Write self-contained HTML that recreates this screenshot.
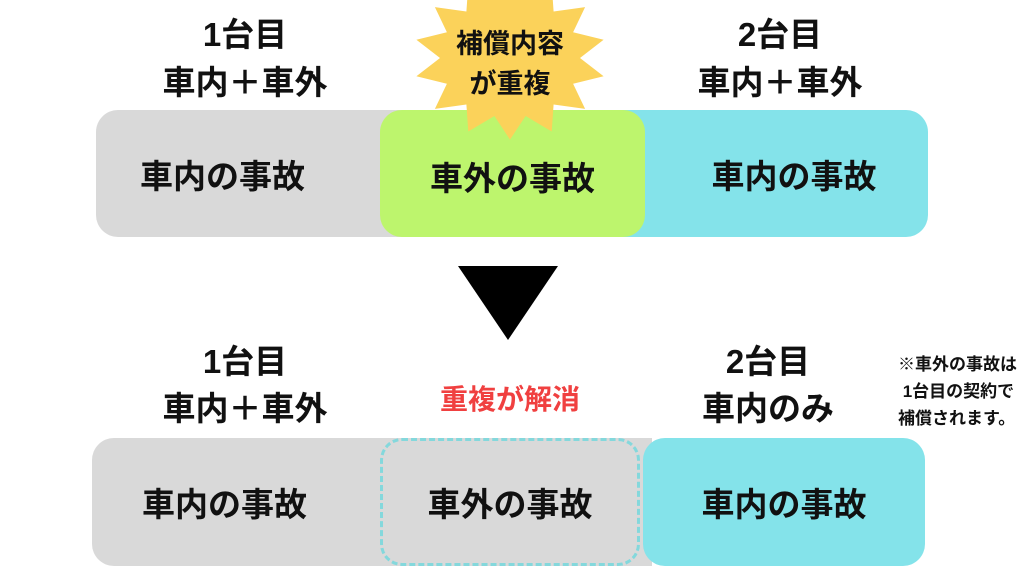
<!DOCTYPE html>
<html><head><meta charset="utf-8"><style>
body{margin:0;width:1024px;height:576px;background:#fff;overflow:hidden;position:relative;font-family:"Liberation Sans","Noto Sans CJK JP",sans-serif;font-weight:bold;color:#111}
.a{position:absolute}
.t{position:absolute;text-align:center;font-size:33px;line-height:36px}
.b{position:absolute;display:flex;align-items:center;justify-content:center;font-size:33px}
</style></head><body>
<div class="b" style="left:96px;top:110px;width:320px;height:127px;background:#d9d9d9;border-radius:22px 0 0 22px;justify-content:flex-start;padding-left:44px;box-sizing:border-box">車内の事故</div>
<div class="b" style="left:620px;top:110px;width:308px;height:127px;background:#84e3ea;border-radius:0 22px 22px 0;padding-left:40px;box-sizing:border-box">車内の事故</div>
<svg class="a" style="left:0;top:0" width="1024" height="576">
<polygon points="458,266 558,266 508,340" fill="#000"/>
</svg>
<div class="b" style="left:380px;top:110px;width:265px;height:127px;background:#bdf56d;border-radius:22px;padding-top:4px;box-sizing:border-box">車外の事故</div>
<svg class="a" style="left:0;top:0" width="1024" height="576"><polygon id="star" fill="#fbd25a"/></svg>
<div class="t" style="left:425px;top:24px;width:170px;font-size:27px;line-height:40px">補償内容<br>が重複</div>
<div class="t" style="left:145px;top:17px;width:200px">1台目</div>
<div class="t" style="left:135px;top:65px;width:220px">車内＋車外</div>
<div class="t" style="left:680px;top:17px;width:200px">2台目</div>
<div class="t" style="left:670px;top:65px;width:220px">車内＋車外</div>

<div class="b" style="left:92px;top:438px;width:560px;height:128px;background:#d9d9d9;border-radius:22px 0 0 22px;justify-content:flex-start;padding-left:50px;box-sizing:border-box">車内の事故</div>
<div class="b" style="left:380px;top:438px;width:260px;height:128px;border:3px dashed #84d8dc;border-radius:22px;box-sizing:border-box">車外の事故</div>
<div class="b" style="left:643px;top:438px;width:282px;height:128px;background:#84e3ea;border-radius:22px">車内の事故</div>
<div class="t" style="left:145px;top:344px;width:200px">1台目</div>
<div class="t" style="left:135px;top:391px;width:220px">車内＋車外</div>
<div class="t" style="left:668px;top:344px;width:200px">2台目</div>
<div class="t" style="left:658px;top:391px;width:220px">車内のみ</div>
<div class="t" style="left:415px;top:382px;width:190px;color:#f04040;font-size:28px">重複が解消</div>
<div class="a" style="left:898px;top:351px;font-size:17px;line-height:27px;white-space:nowrap">※車外の事故は<br>&nbsp;1台目の契約で<br>補償されます。</div>
<script>
var p=[],n=14,cx=510,cy=58;
for(var i=0;i<2*n;i++){var r=i%2?70:96,a=Math.PI*i/n-Math.PI/2;p.push((cx+r*Math.cos(a)).toFixed(1)+","+(cy+r*Math.sin(a)*0.85).toFixed(1));}
document.getElementById('star').setAttribute('points',p.join(' '));
</script>
</body></html>
